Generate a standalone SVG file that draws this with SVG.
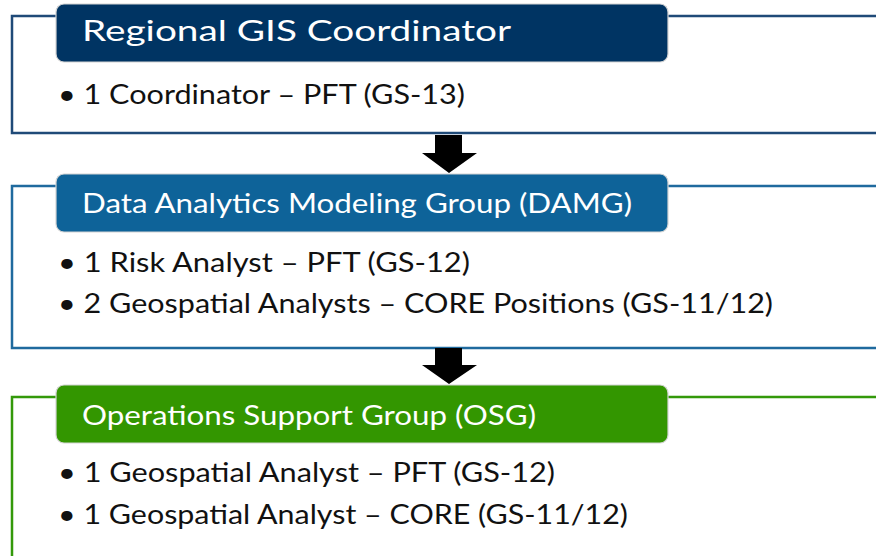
<svg xmlns="http://www.w3.org/2000/svg" width="876" height="556" viewBox="0 0 876 556">
  <defs>
    <style>
      .frame { fill: #ffffff; stroke-width: 2.5; }
      .head { stroke: #d4d4d4; stroke-width: 1.2; }
      .title { font-family: Lato, "Liberation Sans", Arial, sans-serif; fill: #ffffff; }
      .item { font-family: Lato, "Liberation Sans", Arial, sans-serif; font-size: 26px; fill: #111111; }
      .arrow { fill: #000000; }
    </style>
  </defs>
  <rect width="876" height="556" fill="#ffffff"/>

  <!-- Level 1 -->
  <g id="regional-gis-coordinator">
    <rect class="frame" x="12" y="16" width="880" height="117" stroke="#1f4a78"/>
    <rect class="head" x="56" y="4" width="612" height="58" rx="8" fill="#003463"/>
    <text class="title" x="82" y="41" font-size="29" textLength="429" lengthAdjust="spacingAndGlyphs">Regional GIS Coordinator</text>
    <text class="item" x="58" y="104" textLength="407" lengthAdjust="spacingAndGlyphs">• 1 Coordinator – PFT (GS-13)</text>
  </g>

  <!-- Level 2 -->
  <g id="damg">
    <rect class="frame" x="12" y="186" width="880" height="162" stroke="#1f6a9e"/>
    <rect class="head" x="56" y="174" width="612" height="58" rx="8" fill="#0e6399"/>
    <text class="title" x="82" y="213" font-size="26" textLength="550" lengthAdjust="spacingAndGlyphs">Data Analytics Modeling Group (DAMG)</text>
    <text class="item" x="58" y="272" textLength="412" lengthAdjust="spacingAndGlyphs">• 1 Risk Analyst – PFT (GS-12)</text>
    <text class="item" x="58" y="313" textLength="715" lengthAdjust="spacingAndGlyphs">• 2 Geospatial Analysts – CORE Positions (GS-11/12)</text>
  </g>

  <!-- Level 3 -->
  <g id="osg">
    <rect class="frame" x="12" y="397" width="880" height="200" stroke="#33990a"/>
    <rect class="head" x="56" y="385" width="612" height="58" rx="8" fill="#339600"/>
    <text class="title" x="82" y="425" font-size="26" textLength="454" lengthAdjust="spacingAndGlyphs">Operations Support Group (OSG)</text>
    <text class="item" x="58" y="482" textLength="497" lengthAdjust="spacingAndGlyphs">• 1 Geospatial Analyst – PFT (GS-12)</text>
    <text class="item" x="58" y="524" textLength="570" lengthAdjust="spacingAndGlyphs">• 1 Geospatial Analyst – CORE (GS-11/12)</text>
  </g>

  <!-- Connectors -->
  <g id="connectors">
    <polygon class="arrow" points="435,135 462,135 462,153 477,153 449,173 422,153 435,153"/>
    <polygon class="arrow" points="435,348 462,348 462,365 477,365 449,384 422,365 435,365"/>
  </g>
</svg>
